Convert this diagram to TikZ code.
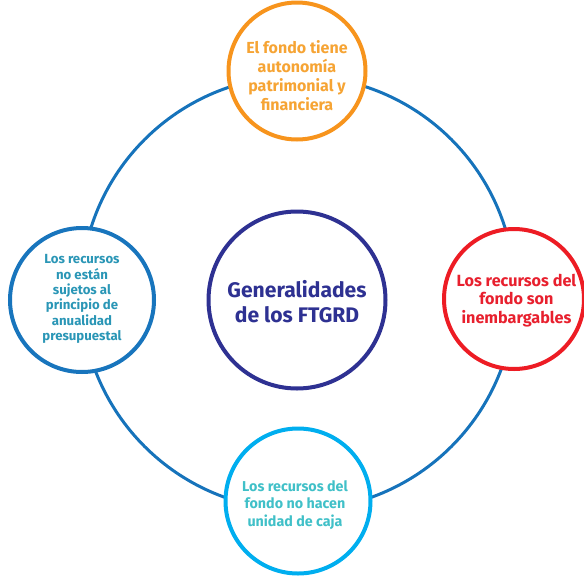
\documentclass[tikz,border=0pt]{standalone}
\usepackage{fontspec}
\setmainfont{Fira Sans}
\definecolor{ringblue}{RGB}{22,115,187}
\definecolor{leftdraw}{RGB}{24,117,189}
\definecolor{lefttext}{RGB}{42,150,182}
\definecolor{orangedraw}{RGB}{247,148,29}
\definecolor{orangetext}{RGB}{246,164,52}
\definecolor{reddraw}{RGB}{237,28,36}
\definecolor{redtext}{RGB}{232,32,46}
\definecolor{cyandraw}{RGB}{0,174,239}
\definecolor{cyantext}{RGB}{64,192,200}
\definecolor{navy}{RGB}{46,49,146}
\tikzset{
  bubble/.style={circle, draw, fill=white, line width=4pt, inner sep=0pt},
  label text/.style={align=center, inner sep=0pt},
}
\begin{document}
\begin{tikzpicture}[x=1pt,y=-1pt]
\useasboundingbox (0,0) rectangle (584,576);
\node[circle, draw=ringblue, line width=3pt, minimum size=434pt, inner sep=0pt] (ring) at (298,293) {};
% top
\node[bubble, draw=orangedraw, minimum size=137pt] (topc) at (297,71) {};
\node[label text, text=orangetext, font=\fontsize{16}{19}\selectfont\bfseries] (top) at (297,75.5)
  {El fondo tiene\\autonomía\\patrimonial y\\financiera};
% left
\node[bubble, draw=leftdraw, minimum size=144pt] (leftc) at (82,300) {};
\node[label text, text=lefttext, font=\fontsize{13.2}{15.3}\selectfont\bfseries] (left) at (82,299)
  {Los recursos\\no están\\sujetos al\\principio de\\anualidad\\presupuestal};
% right
\node[bubble, draw=reddraw, minimum size=140pt] (rightc) at (514,299) {};
\node[label text, text=redtext, font=\fontsize{16.2}{18.3}\selectfont\bfseries] (right) at (516.5,300.4)
  {Los recursos del\\fondo son\\inembargables};
% bottom
\node[bubble, draw=cyandraw, minimum size=145pt] (bottomc) at (298,501) {};
\node[label text, text=cyantext, font=\fontsize{14.3}{17.7}\selectfont\bfseries] (bottom) at (295,505)
  {Los recursos del\\fondo no hacen\\unidad de caja};
% center
\node[bubble, draw=navy, minimum size=177pt] (centerc) at (297,300) {};
\node[label text, text=navy, font=\fontsize{21.1}{25}\selectfont\bfseries] (center) at (297,301.6)
  {Generalidades\\de los FTGRD};
\end{tikzpicture}
\end{document}
